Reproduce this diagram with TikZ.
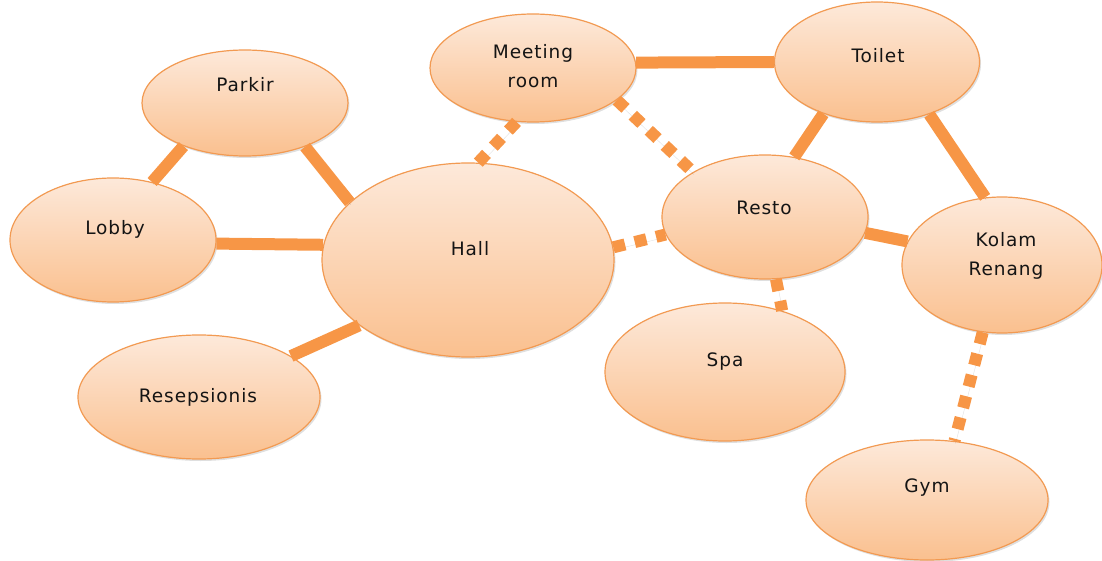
\documentclass[tikz,border=0pt]{standalone}
\usepackage{fontspec}
\setmainfont{DejaVu Sans}[LetterSpace=5]
\usetikzlibrary{shapes.geometric,shadows}
\definecolor{lnc}{HTML}{F79646}
\definecolor{bdc}{HTML}{F29A52}
\definecolor{topc}{HTML}{FDE9DA}
\definecolor{botc}{HTML}{FAC08F}
\definecolor{txc}{HTML}{141414}
\tikzset{
  bubble/.style={ellipse, draw=bdc, line width=1.2pt, top color=topc, bottom color=botc,
    inner sep=0pt, drop shadow={shadow xshift=1.5pt, shadow yshift=-2pt, opacity=0.25}},
  lbl/.style={font=\fontsize{18.5}{28.5}\selectfont, text=txc, align=center, inner sep=0pt},
  link/.style={draw=lnc, line width=12pt, line cap=butt,
    preaction={draw=black, draw opacity=0.12, transform canvas={xshift=1pt, yshift=-2.5pt}}},
  dotlink/.style={link, dash pattern=on 12pt off 10pt},
}
\begin{document}
\begin{tikzpicture}[x=1pt,y=-1pt]
\useasboundingbox (0,0) rectangle (1102,561);
% bubbles
\node[bubble, minimum width=206pt, minimum height=106pt] (parkir) at (245,103) {};
\node[bubble, minimum width=206pt, minimum height=124pt] (lobby) at (113,240) {};
\node[bubble, minimum width=292pt, minimum height=194pt] (hall) at (468,260) {};
\node[bubble, minimum width=242pt, minimum height=124pt] (resep) at (199,397) {};
\node[bubble, minimum width=206pt, minimum height=108pt] (meet) at (533,68) {};
\node[bubble, minimum width=205pt, minimum height=120pt] (toilet) at (877,62) {};
\node[bubble, minimum width=206pt, minimum height=124pt] (resto) at (765,217) {};
\node[bubble, minimum width=200pt, minimum height=136pt] (kolam) at (1002,265) {};
\node[bubble, minimum width=240pt, minimum height=138pt] (spa) at (725,372) {};
\node[bubble, minimum width=242pt, minimum height=120pt] (gym) at (927,500) {};
% labels
\node[lbl] (parkir-t) at (245,85) {Parkir};
\node[lbl] (lobby-t) at (115,229) {Lobby};
\node[lbl] (hall-t) at (470,249) {Hall};
\node[lbl] (resep-t) at (198,397) {Resepsionis};
\node[lbl] (meet-t) at (533,66) {Meeting\\room};
\node[lbl] (toilet-t) at (878,56) {Toilet};
\node[lbl] (resto-t) at (764,208) {Resto};
\node[lbl] (kolam-t) at (1006,256) {Kolam\\Renang};
\node[lbl] (spa-t) at (725,362) {Spa};
\node[lbl] (gym-t) at (927,488) {Gym};
% connectors
\draw[link] (parkir.215) -- (lobby.56);
\draw[link] (parkir.324) -- (hall.154);
\draw[link] (lobby.358) -- (hall.174);
\draw[link] (resep.24) -- (hall.211.5);
\draw[dotlink] (hall.84) -- (meet.253);
\draw[link] (meet.3) -- (toilet.180);
\draw[dotlink] (meet.339) -- (resto.148.5);
\draw[dotlink] (hall.5) -- (resto.190);
\draw[link] (toilet.224) -- (resto.64);
\draw[link] (toilet.315.5) -- (kolam.104);
\draw[link] (resto.351) -- (kolam.166.6);
\draw[dotlink] (resto.280) -- (spa.47.7);
\draw[dotlink] (kolam.254) -- (gym.65.7);
\end{tikzpicture}
\end{document}
